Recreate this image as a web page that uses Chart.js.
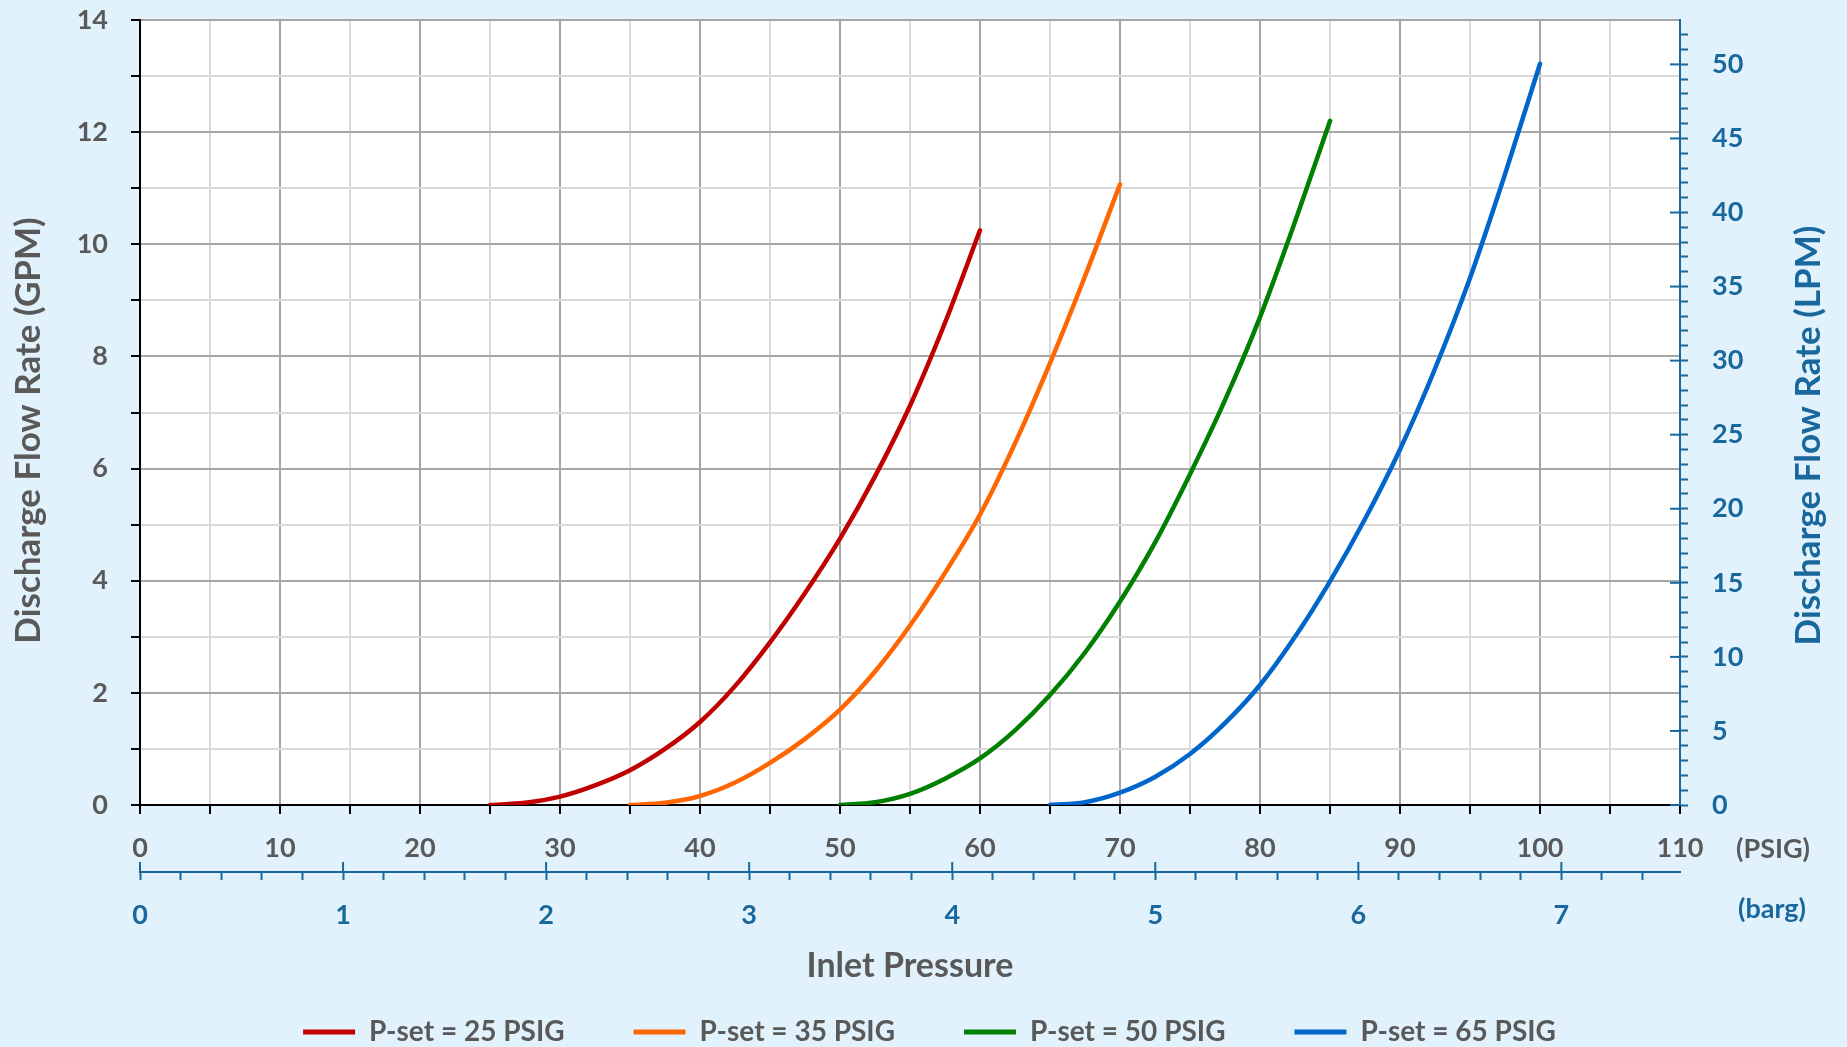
<!DOCTYPE html>
<html>
<head>
<meta charset="utf-8">
<script src="https://cdn.jsdelivr.net/npm/chart.js@4.4.1/dist/chart.umd.min.js"></script>
<style>
    html, body { margin: 0; padding: 0; background: #E1F2FD; overflow: hidden; }
    canvas { display: block; }
</style>
</head>
<body>
<canvas id="flowChart" width="1847" height="1047"></canvas>
<script>
// =========================
// DATA
// =========================
const seriesLabels = ["P-set = 25 PSIG", "P-set = 35 PSIG", "P-set = 50 PSIG", "P-set = 65 PSIG"];
const seriesColors = ["#C00000", "#FF6600", "#008000", "#0066CC"];

// inlet pressure (PSIG) / discharge flow (GPM)
const pressure25 = [25, 27.5, 30, 32.5, 35, 37.5, 40, 42.5, 45, 47.5, 50, 52.5, 55, 57.5, 60];
const flow25 = [0, 0.04, 0.15, 0.35, 0.62, 1.0, 1.48, 2.12, 2.9, 3.78, 4.75, 5.86, 7.12, 8.6, 10.25];

const pressure35 = [35, 37.5, 40, 42.5, 45, 47.5, 50, 52.5, 55, 57.5, 60, 62.5, 65, 67.5, 70];
const flow35 = [0, 0.04, 0.16, 0.4, 0.75, 1.18, 1.7, 2.38, 3.2, 4.14, 5.18, 6.45, 7.88, 9.43, 11.07];

const pressure50 = [50, 52.5, 55, 57.5, 60, 62.5, 65, 67.5, 70, 72.5, 75, 77.5, 80, 82.5, 85];
const flow50 = [0, 0.05, 0.2, 0.47, 0.83, 1.33, 1.96, 2.72, 3.63, 4.68, 5.9, 7.22, 8.7, 10.4, 12.2];

const pressure65 = [65, 67.5, 70, 72.5, 75, 77.5, 80, 82.5, 85, 87.5, 90, 92.5, 95, 97.5, 100];
const flow65 = [0, 0.05, 0.22, 0.5, 0.91, 1.46, 2.14, 3.0, 3.99, 5.1, 6.34, 7.78, 9.4, 11.25, 13.22];

const xMax = 110;      // PSIG
const yMax = 14;       // GPM
const GPM_TO_LPM = 3.78541;
const PSI_PER_BAR = 14.5038;

const GRAY = "#595959";
const BLUE = "#18679D";
const GRID_MAJOR = "#A6A6A6";
const GRID_MINOR = "#D9D9D9";

function isWhole(v) {
    return Math.abs(v - Math.round(v)) < 1e-6;
}

function toPoints(xs, ys) {
    return xs.map((x, i) => ({ x: x, y: ys[i] }));
}

// =========================
// EXTRAS: plot background, axis titles, unit labels
// =========================
const extras = {
    id: "extras",
    beforeDraw(chart) {
        const a = chart.chartArea;
        const ctx = chart.ctx;
        ctx.save();
        ctx.fillStyle = "#ffffff";
        ctx.fillRect(a.left, a.top, a.right - a.left, a.bottom - a.top);
        ctx.restore();
    },
    afterDraw(chart) {
        const ctx = chart.ctx;
        const a = chart.chartArea;
        const xb = chart.scales.xb;
        const y2 = chart.scales.y2;

        ctx.save();
        // major ticks on the blue axes cross the line
        ctx.strokeStyle = BLUE;
        ctx.lineWidth = 2;
        y2.ticks.forEach(t => {
            if (t.value % 5 === 0) {
                const p = y2.getPixelForValue(t.value);
                ctx.beginPath();
                ctx.moveTo(a.right - 10, p);
                ctx.lineTo(a.right, p);
                ctx.stroke();
            }
        });
        xb.ticks.forEach(t => {
            if (isWhole(t.value)) {
                const p = xb.getPixelForValue(t.value);
                ctx.beginPath();
                ctx.moveTo(p, xb.top - 10);
                ctx.lineTo(p, xb.top);
                ctx.stroke();
            }
        });

        // unit labels after the last tick
        ctx.font = "bold 27px Lato";
        ctx.textAlign = "center";
        ctx.textBaseline = "middle";
        ctx.fillStyle = GRAY;
        ctx.fillText("(PSIG)", a.right + 93, 849);
        ctx.fillStyle = BLUE;
        ctx.fillText("(barg)", a.right + 92, 909);

        // y titles, both read bottom to top
        const midY = (a.top + a.bottom) / 2 + 18;
        ctx.font = "bold 35px Lato";
        ctx.fillStyle = GRAY;
        ctx.translate(29, midY);
        ctx.rotate(-Math.PI / 2);
        ctx.fillText("Discharge Flow Rate (GPM)", 0, 0);
        ctx.rotate(Math.PI / 2);
        ctx.translate(-29, -midY);

        ctx.fillStyle = BLUE;
        ctx.translate(a.right + 129, midY + 5);
        ctx.rotate(-Math.PI / 2);
        ctx.fillText("Discharge Flow Rate (LPM)", 0, 0);
        ctx.restore();
    }
};

// =========================
// CHART
// =========================
Chart.defaults.font.family = "Lato";
Chart.defaults.font.weight = "bold";

const allX = [pressure25, pressure35, pressure50, pressure65];
const allY = [flow25, flow35, flow50, flow65];

const datasets = seriesLabels.map((label, i) => ({
    label: label,
    data: toPoints(allX[i], allY[i]),
    borderColor: seriesColors[i],
    backgroundColor: seriesColors[i],
    borderWidth: 4.5,
    borderCapStyle: "round",
    pointRadius: 0,
    cubicInterpolationMode: "monotone",
    fill: false,
    xAxisID: "x",
    yAxisID: "y"
}));

new Chart(document.getElementById("flowChart"), {
    type: "line",
    data: { datasets: datasets },
    plugins: [extras],
    options: {
        responsive: false,
        animation: false,
        devicePixelRatio: 1,
        layout: { padding: { left: 12, top: 20, right: 0, bottom: 0 } },
        plugins: {
            tooltip: { enabled: false },
            legend: {
                position: "bottom",
                maxHeight: 98,
                labels: {
                    usePointStyle: true,
                    pointStyle: "line",
                    pointStyleWidth: 52,
                    padding: 69,
                    color: GRAY,
                    font: { size: 28, weight: "bold" },
                    generateLabels: chart =>
                        Chart.defaults.plugins.legend.labels.generateLabels(chart)
                            .map(l => Object.assign(l, { lineWidth: 5 }))
                }
            }
        },
        scales: {
            x: {
                type: "linear",
                position: "bottom",
                weight: 0,
                min: 0,
                max: xMax,
                afterFit: s => { s.height = 67; },
                grid: {
                    color: c => (c.tick && c.tick.value % 10 === 0) ? GRID_MAJOR : GRID_MINOR,
                    lineWidth: 2,
                    tickLength: 9,
                    tickColor: "#000",
                    tickWidth: 2
                },
                border: { color: "#000", width: 2 },
                ticks: {
                    stepSize: 5,
                    autoSkip: false,
                    maxRotation: 0,
                    padding: 18,
                    color: GRAY,
                    font: { size: 27, weight: "bold" },
                    callback: v => v % 10 === 0 ? v : ""
                }
            },
            xb: {
                type: "linear",
                position: "bottom",
                weight: 1,
                min: 0,
                max: xMax / PSI_PER_BAR,
                afterFit: s => { s.height = 77; },
                grid: { drawOnChartArea: false, tickLength: 8, tickColor: BLUE, tickWidth: 2 },
                border: { color: BLUE, width: 2 },
                ticks: {
                    stepSize: 0.2,
                    includeBounds: false,
                    autoSkip: false,
                    maxRotation: 0,
                    padding: 19,
                    color: BLUE,
                    font: { size: 27, weight: "bold" },
                    callback: v => isWhole(v) ? Math.round(v) : ""
                },
                title: {
                    display: true,
                    text: "Inlet Pressure",
                    color: GRAY,
                    font: { size: 34, weight: "bold" },
                    padding: { top: 0, bottom: -37 }
                }
            },
            y: {
                position: "left",
                min: 0,
                max: yMax,
                afterFit: s => { s.width = 128; s.paddingTop = 0; s.paddingBottom = 0; },
                grid: {
                    color: c => (c.tick && c.tick.value % 2 === 0) ? GRID_MAJOR : GRID_MINOR,
                    lineWidth: 2,
                    tickLength: 9,
                    tickColor: "#000",
                    tickWidth: 2
                },
                border: { color: "#000", width: 2 },
                ticks: {
                    stepSize: 1,
                    autoSkip: false,
                    padding: 23,
                    color: GRAY,
                    font: { size: 27, weight: "bold" },
                    callback: v => v % 2 === 0 ? v : ""
                }
            },
            y2: {
                position: "right",
                min: 0,
                max: yMax * GPM_TO_LPM,
                afterFit: s => { s.width = 167; s.paddingTop = 0; s.paddingBottom = 0; },
                grid: { drawOnChartArea: false, tickLength: 8, tickColor: BLUE, tickWidth: 2 },
                border: { color: BLUE, width: 2 },
                ticks: {
                    stepSize: 1,
                    includeBounds: false,
                    autoSkip: false,
                    padding: 24,
                    color: BLUE,
                    font: { size: 27, weight: "bold" },
                    callback: v => v % 5 === 0 ? v : ""
                }
            }
        }
    }
});
</script>
</body>
</html>
